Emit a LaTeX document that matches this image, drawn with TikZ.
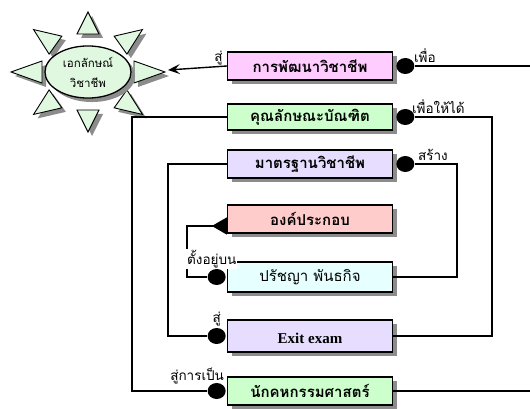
\documentclass[tikz,border=0pt]{standalone}
\usepackage{fontspec}
\setmainfont{Liberation Serif}
\newfontfamily\thaifont[Script=Thai]{Loma}
\usepackage{tikz}
\usetikzlibrary{arrows.meta, positioning, calc, shapes.geometric, shadows}
\definecolor{pinkbox}{HTML}{FFCCFF}
\definecolor{greenbox}{HTML}{CCFFCC}
\definecolor{lavbox}{HTML}{E6DDFF}
\definecolor{redbox}{HTML}{FFCCCC}
\definecolor{cyanbox}{HTML}{E6FFFF}
\definecolor{sunfill}{HTML}{E0F8E0}
\tikzset{
	shade/.style={drop shadow={shadow xshift=4pt, shadow yshift=-4pt, fill=black!45, opacity=1}},
	box/.style={rectangle, draw, line width=1.3pt, minimum width=165pt,
		minimum height=28pt, align=center, shade,
		font=\thaifont\bfseries\fontsize{15}{17}\selectfont},
	dot/.style={ellipse, fill=black, minimum width=18pt, minimum height=16pt, inner sep=0pt},
	line/.style={line width=1.4pt},
	arr/.style={line, -{Stealth[length=12pt, width=10pt, inset=5pt]}},
	farr/.style={line, -{Triangle[reversed, length=15pt, width=17pt]}},
	lbl/.style={font=\thaifont\fontsize{13.5}{15}\selectfont, inner sep=1pt},
	ray/.style={draw, fill=sunfill, line width=0.9pt, shade},
}

\begin{document}
\begin{tikzpicture}[x=1pt, y=-1pt]
	\useasboundingbox (0,0) rectangle (530,409);
	% sun
	\foreach \a in {0,45,...,315} {
		\coordinate (rb) at ({88+46*cos(\a)}, {72-38*sin(\a)});
		\coordinate (rt) at ({88+77*cos(\a)}, {72-60*sin(\a)});
		\draw[ray] ($(rb)!11pt!90:(rt)$) -- (rt) -- ($(rb)!11pt!-90:(rt)$) -- cycle;
	}
	\node[ellipse, draw, line width=1.3pt, fill=sunfill, shade, minimum width=86pt,
		minimum height=48pt, align=center, font=\thaifont\fontsize{11.5}{20}\selectfont]
		(sun) at (88,72) {เอกลักษณ์\\วิชาชีพ};
	\coordinate (sunin) at (168,70);
	
	\node[box, fill=pinkbox] (dev) at (310,66) {การพัฒนาวิชาชีพ};
	\node[box, fill=greenbox, minimum height=26pt] (qual) at (310,117) {คุณลักษณะบัณฑิต};
	\node[box, fill=lavbox] (std) at (310,164) {มาตรฐานวิชาชีพ};
	\node[box, fill=redbox] (comp) at (310,219) {องค์ประกอบ};
	\node[box, fill=cyanbox, minimum height=30pt, font=\thaifont\fontsize{15}{17}\selectfont] (phil) at (310,277) {ปรัชญา พันธกิจ};
	\node[box, fill=lavbox, minimum height=32pt, text height=18pt, text depth=3pt,
		font=\bfseries\fontsize{15}{17}\selectfont] (exit) at (310,336) {Exit exam};
	\node[box, fill=greenbox] (prof) at (310,391) {นักคหกรรมศาสตร์};
	
	\node[dot, right=3pt of dev] (d1) {};
	\node[dot, right=3pt of qual] (d2) {};
	\node[dot, right=3pt of std] (d3) {};
	\node[dot, left=1pt of phil] (d5) {};
	\node[dot, left=1pt of exit] (d6) {};
	\node[dot, left=1pt of prof] (d7) {};
	
	\coordinate (rgt) at (530,0);
	\coordinate (far) at (132,0);
	\coordinate (mid) at (168,0);
	\coordinate (near) at (187,0);
	\coordinate (r1) at (492,0);
	\coordinate (r2) at (457,0);
	
	\draw[arr] (dev.west) -- (sunin);
	\draw[line] (d1) -- (d1 -| rgt);
	\draw[line] (prof.east) -- (prof.east -| rgt);
	\draw[line] (qual.west) -- (qual.west -| far) |- (d7);
	\draw[line] (d2) -- (d2 -| r1) |- (exit.east);
	\draw[line] (std.west) -- (std.west -| mid) |- (d6);
	\draw[line] (d3) -- (d3 -| r2) |- (phil.east);
	\draw[farr] (d5) -- (d5 -| near) |- ([yshift=-7pt]comp.west);
	
	\node[lbl, anchor=south east] at ([xshift=-3pt]dev.west) {สู่};
	\node[lbl, anchor=south west] at ([xshift=1pt, yshift=-4pt]d1.north east) {เพื่อ};
	\node[lbl, anchor=south west] at ([xshift=-1pt, yshift=-4pt]d2.north east) {เพื่อให้ได้};
	\node[lbl, anchor=south west] at ([xshift=5pt, yshift=-4pt]d3.north east) {สร้าง};
	\node[lbl, anchor=south west, fill=white] at ([xshift=-1pt]d5.north -| near) {ตั้งอยู่บน};
	\node[lbl, above=1pt of d6] {สู่};
	\node[lbl, anchor=south east] at ([xshift=2pt]d7.north east) {สู่การเป็น};
\end{tikzpicture}
\end{document}
